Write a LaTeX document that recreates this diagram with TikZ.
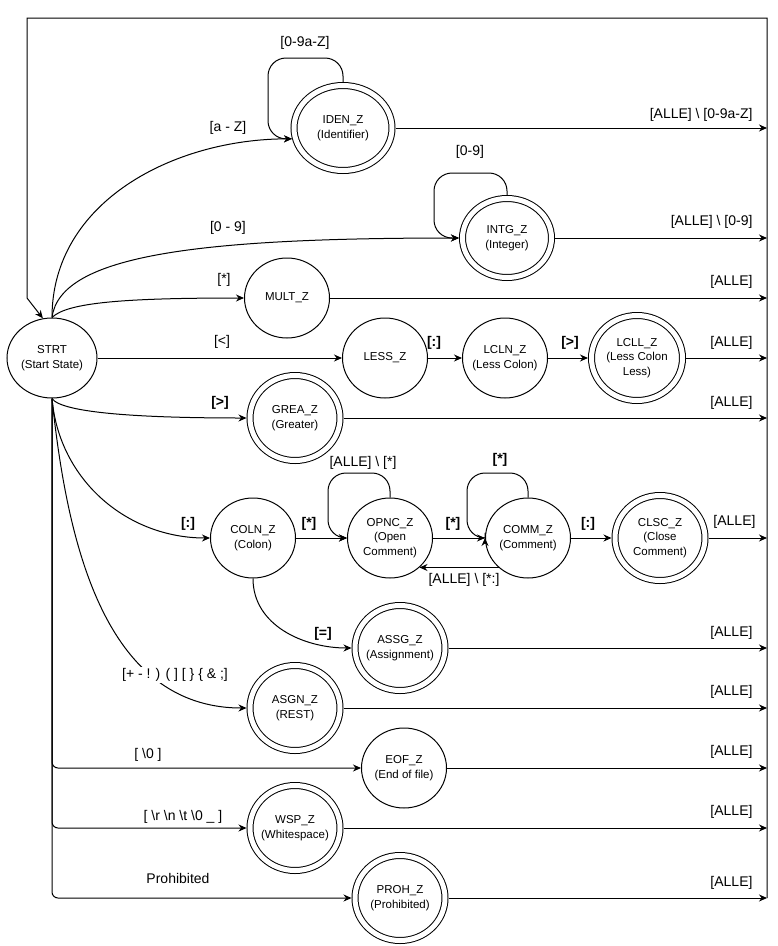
\documentclass[tikz,border=0pt]{standalone}
\usepackage{fontspec}
\setmainfont{Liberation Sans}
\usetikzlibrary{arrows.meta,shapes.geometric}

\tikzset{
  state/.style={draw, ellipse, minimum width=85pt, minimum height=80pt,
    inner xsep=-8pt, inner ysep=0pt, align=center,
    font=\fontsize{11.5}{14.5}\selectfont},
  accept/.style={state, double, double distance=5pt, outer sep=3.5pt,
    minimum width=90pt, minimum height=85pt},
  lbl/.style={inner sep=0pt, font=\fontsize{14}{16}\selectfont},
  blbl/.style={lbl, font=\fontsize{14}{16}\selectfont\bfseries},
  alle/.style={lbl, anchor=east},
  arr/.style={-{Stealth[length=8pt,width=7pt]}},
  loop/.style={arr, rounded corners=18pt},
}

\begin{document}
\begin{tikzpicture}[x=1pt, y=1pt, line width=1pt]
      \useasboundingbox (0,0) rectangle (778,-946);
      \coordinate (rgt) at (767,0);

      % states
      \node[state, minimum width=90pt] (strt) at (52,-358) {STRT\\(Start State)};
      \node[accept, minimum width=98pt] (iden) at (343,-128) {IDEN\_Z\\(Identifier)};
      \node[accept, minimum width=89pt, minimum height=79pt] (intg) at (507,-238) {INTG\_Z\\(Integer)};
      \node[state] (mult) at (287,-298) {MULT\_Z};
      \node[state] (less) at (385,-358) {LESS\_Z};
      \node[state] (lcln) at (505,-358) {LCLN\_Z\\(Less Colon)};
      \node[accept, minimum width=91pt] (lcll) at (637,-358) {LCLL\_Z\\(Less Colon\\Less)};
      \node[accept] (grea) at (295,-418) {GREA\_Z\\(Greater)};
      \node[state] (coln) at (253,-538) {COLN\_Z\\(Colon)};
      \node[state] (opnc) at (390,-538) {OPNC\_Z\\(Open\\Comment)};
      \node[state] (comm) at (528,-538) {COMM\_Z\\(Comment)};
      \node[accept] (clsc) at (660,-538) {CLSC\_Z\\(Close\\Comment)};
      \node[accept] (assg) at (400,-648) {ASSG\_Z\\(Assignment)};
      \node[accept] (asgn) at (295,-708) {ASGN\_Z\\(REST)};
      \node[state] (eof) at (404,-768) {EOF\_Z\\(End of file)};
      \node[accept] (wsp) at (295,-828) {WSP\_Z\\(Whitespace)};
      \node[accept] (proh) at (400,-898) {PROH\_Z\\(Prohibited)};

      % transitions out of the start state
      \draw[arr] (strt.north) to[out=90, in=180] (iden.192);
      \draw[arr] (strt.north) .. controls +(8,63) and +(-258,0) .. (intg.west);
      \draw[arr] (strt.north) .. controls +(15,15) and +(-120,0) .. (mult.west);
      \draw[arr] (strt) -- (less);
      \draw[arr] (strt.south) .. controls +(10,-15) and +(-100,0) .. (grea.west);
      \draw[arr] (strt.south) to[out=-85, in=180] (coln.west);
      \draw[arr] (strt.south) to[out=-84, in=180] (asgn.west);
      \draw[arr, rounded corners=6pt] (strt.south) |- (eof);
      \draw[arr, rounded corners=6pt] (strt.south) |- (wsp);
      \draw[arr, rounded corners=6pt] (strt.south) |- (proh);

      % inner transitions
      \draw[arr] (less) -- (lcln);
      \draw[arr] (lcln) -- (lcll);
      \draw[arr] (coln) -- (opnc);
      \draw[arr] (opnc) -- (comm);
      \draw[arr] (comm) -- (clsc);
      \draw[arr] (comm.225) -- (opnc.315);
      \draw[arr] (coln.south) to[out=-90, in=180] (assg.west);

      % self loops
      \draw[loop] (iden.north) |- (268,-58) |- (iden.192);
      \draw[loop] (intg.north) |- (434,-173) |- (intg.west);
      \draw[loop] (opnc.north) |- (328,-473) |- (opnc.west);
      \draw[loop] (comm.north) |- (467,-473) |- (comm.west);

      % back to the start state
      \draw[arr] (iden) -- (iden -| rgt);
      \draw[arr] (intg) -- (intg -| rgt);
      \draw[arr] (mult) -- (mult -| rgt);
      \draw[arr] (lcll) -- (lcll -| rgt);
      \draw[arr] (grea) -- (grea -| rgt);
      \draw[arr] (clsc) -- (clsc -| rgt);
      \draw[arr] (assg) -- (assg -| rgt);
      \draw[arr] (asgn) -- (asgn -| rgt);
      \draw[arr] (eof) -- (eof -| rgt);
      \draw[arr] (wsp) -- (wsp -| rgt);
      \draw[arr] (proh) -- (proh -| rgt);
      \draw[arr] (rgt |- proh) -- (767,-18) -- (27,-18) -- (27,-298) -- (strt.103);

      % labels
      \node[lbl] (lIdLoop) at (305,-43) {[0-9a-Z]};
      \node[lbl] (lIden) at (228,-128) {[a - Z]};
      \node[lbl] (lInLoop) at (470,-152) {[0-9]};
      \node[lbl] (lIntg) at (228,-228) {[0 - 9]};
      \node[lbl] (lMult) at (224,-280) {[*]};
      \node[lbl] (lLess) at (222,-342) {[<]};
      \node[blbl] (lLcln) at (434,-343) {[:]};
      \node[blbl] (lLcll) at (570,-343) {[>]};
      \node[blbl] (lGrea) at (220,-403) {[>]};
      \node[lbl] (lOpLoop) at (363,-463) {[ALLE] \textbackslash{} [*]};
      \node[blbl] (lCoLoop) at (500,-460) {[*]};
      \node[blbl] (lColn) at (188,-524) {[:]};
      \node[blbl] (lOpnc) at (309,-524) {[*]};
      \node[blbl] (lComm) at (453,-524) {[*]};
      \node[blbl] (lClsc) at (588,-524) {[:]};
      \node[lbl] (lBack) at (464,-580) {[ALLE] \textbackslash{} [*:]};
      \node[blbl] (lAssg) at (323,-634) {[=]};
      \node[lbl, fill=white, inner sep=1pt] (lAsgn) at (175,-675) {[+ - ! ) ( ] [ \} \{ \& ;]};
      \node[lbl] (lEof) at (148,-755) {[ \textbackslash 0 ]};
      \node[lbl] (lWsp) at (183,-817) {[ \textbackslash r \textbackslash n \textbackslash t \textbackslash 0 \_ ]};
      \node[lbl] (lProh) at (178,-878) {Prohibited};

      \node[alle] (aIden) at (753,-115) {[ALLE] \textbackslash{} [0-9a-Z]};
      \node[alle] (aIntg) at (753,-222) {[ALLE] \textbackslash{} [0-9]};
      \node[alle] (aMult) at (753,-282) {[ALLE]};
      \node[alle] (aLcll) at (753,-343) {[ALLE]};
      \node[alle] (aGrea) at (753,-403) {[ALLE]};
      \node[alle] (aClsc) at (756,-522) {[ALLE]};
      \node[alle] (aAssg) at (753,-633) {[ALLE]};
      \node[alle] (aAsgn) at (753,-692) {[ALLE]};
      \node[alle] (aEof) at (753,-752) {[ALLE]};
      \node[alle] (aWsp) at (753,-812) {[ALLE]};
      \node[alle] (aProh) at (753,-883) {[ALLE]};
    \end{tikzpicture}
\end{document}
